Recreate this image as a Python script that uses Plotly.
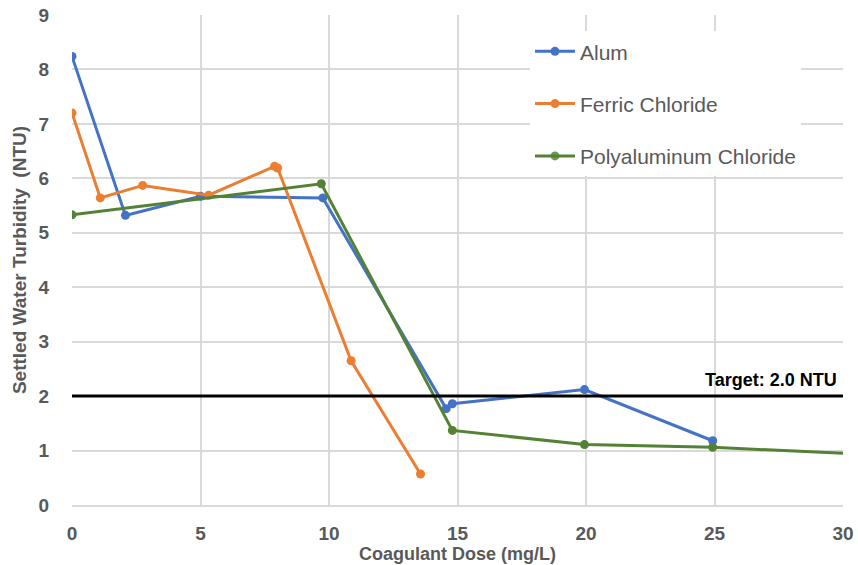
import plotly.graph_objects as go

alum_x = [0, 2.08, 5.0, 9.76, 14.56, 14.8, 19.94, 24.93]
alum_y = [8.24, 5.32, 5.67, 5.64, 1.77, 1.86, 2.12, 1.18]

ferric_x = [0, 1.1, 2.75, 5.32, 7.88, 8.0, 10.86, 13.56]
ferric_y = [7.2, 5.64, 5.87, 5.69, 6.22, 6.19, 2.65, 0.57]

pac_x = [0, 9.7, 14.8, 19.94, 24.93, 30]
pac_y = [5.33, 5.9, 1.37, 1.11, 1.06, 0.95]
pac_marker_opacity = [1, 1, 1, 1, 1, 0]

target = 2.0
x_ticks = [0, 5, 10, 15, 20, 25, 30]
y_ticks = [0, 1, 2, 3, 4, 5, 6, 7, 8, 9]

FONT = "Liberation Sans, Arial, sans-serif"
GRAY = "#595959"

fig = go.Figure()
fig.add_trace(go.Scatter(x=alum_x, y=alum_y, mode="lines+markers", name="Alum",
                         line=dict(color="#4472C4", width=3), marker=dict(size=9),
                         legendgroup="a"))
fig.add_trace(go.Scatter(x=ferric_x, y=ferric_y, mode="lines+markers", name="Ferric Chloride",
                         line=dict(color="#ED7D31", width=3), marker=dict(size=9),
                         legendgroup="b"))
fig.add_trace(go.Scatter(x=pac_x, y=pac_y, mode="lines+markers", name="Polyaluminum Chloride",
                         line=dict(color="#548235", width=3),
                         marker=dict(size=9, opacity=pac_marker_opacity),
                         legendgroup="c"))

fig.add_shape(type="line", xref="x", yref="y", x0=x_ticks[0], x1=x_ticks[-1],
              y0=target, y1=target, line=dict(color="black", width=3))
fig.add_annotation(x=x_ticks[-1], y=target, xref="x", yref="y", text="<b>Target: 2.0 NTU</b>",
                   showarrow=False, xanchor="right", yanchor="bottom", yshift=4, xshift=-4,
                   font=dict(family=FONT, size=18, color="black"))

fig.update_layout(
    width=858, height=565,
    margin=dict(l=72, r=15, t=15, b=60),
    plot_bgcolor="white", paper_bgcolor="white",
    font=dict(family=FONT, color=GRAY),
    legend=dict(x=0.594, y=0.967, xanchor="left", yanchor="top",
                bgcolor="white", font=dict(size=21, color=GRAY, family=FONT),
                tracegroupgap=22, itemwidth=40),
    showlegend=True,
)
fig.update_xaxes(range=[0, 30], tickvals=x_ticks, showgrid=True, gridcolor="#d9d9d9", gridwidth=1.5,
                 zeroline=False, showline=True, linecolor="#d9d9d9", linewidth=1.5,
                 automargin=False,
                 ticks="outside", ticklen=10, tickcolor="rgba(0,0,0,0)",
                 tickfont=dict(size=19, family=FONT, color=GRAY, weight="bold"),
                 title=dict(text="<b>Coagulant Dose (mg/L)</b>", standoff=0,
                            font=dict(size=18, family=FONT, color=GRAY)))
fig.update_yaxes(range=[0, 9], tickvals=y_ticks, showgrid=True, gridcolor="#d9d9d9", gridwidth=1.5,
                 zeroline=False, showline=False, automargin=False,
                 ticks="outside", ticklen=18, tickcolor="rgba(0,0,0,0)",
                 tickfont=dict(size=19, family=FONT, color=GRAY, weight="bold"),
                 title=dict(text="<b>Settled Water Turbidity  (NTU)</b>", standoff=6,
                            font=dict(size=19, family=FONT, color=GRAY)))

fig.write_html("out.html")
